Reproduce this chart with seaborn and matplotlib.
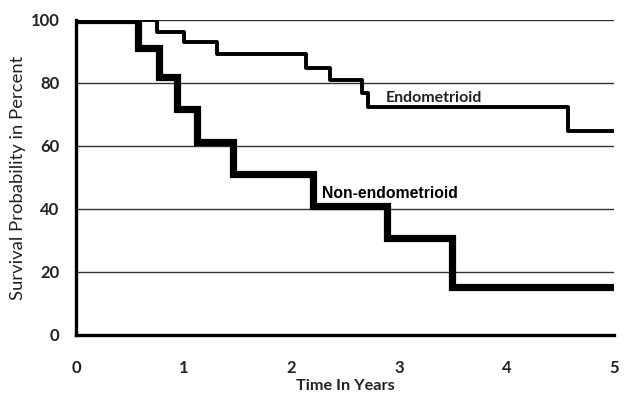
#Kaplan-Meier style survival curves, endometrioid vs non-endometrioid

import pandas as pd
import numpy as np
import matplotlib
matplotlib.use('Agg')
import matplotlib.pyplot as plt
import seaborn as sns

#step times (years) and survival (%)

endo_time = [0, 0.75, 1.0, 1.31, 2.14, 2.36, 2.66, 2.71, 4.57, 5.0]
endo_surv = [100, 96.3, 92.9, 89.2, 84.9, 81.0, 76.8, 72.5, 64.8, 64.8]

nonendo_time = [0, 0.58, 0.77, 0.94, 1.12, 1.46, 2.2, 2.89, 3.49, 5.0]
nonendo_surv = [100, 91.0, 81.8, 71.7, 61.4, 51.1, 41.0, 30.7, 15.3, 15.3]

x_ticks = [0, 1, 2, 3, 4, 5]
y_ticks = [0, 20, 40, 60, 80, 100]

endo = pd.DataFrame({'Time': endo_time, 'Survival': endo_surv})
nonendo = pd.DataFrame({'Time': nonendo_time, 'Survival': nonendo_surv})

sns.set_style('white')

fig = plt.figure(figsize=(6.25, 3.95), dpi=100)
ax = fig.add_axes([0.1216, 0.1519, 0.8608, 0.7975])

#gridlines at each y tick
for y in y_ticks[1:]:
    ax.axhline(y, color='#333333', lw=1.0, zorder=1)

sns.lineplot(data=endo, x='Time', y='Survival', ax=ax, color='black', lw=2.8,
             drawstyle='steps-post', estimator=None, sort=False, zorder=3)
sns.lineplot(data=nonendo, x='Time', y='Survival', ax=ax, color='black', lw=5.2,
             drawstyle='steps-post', estimator=None, sort=False, zorder=3,
             solid_joinstyle='miter')

ax.set_xlim(0, 5)
ax.set_ylim(0, 100)
ax.set_xticks(x_ticks)
ax.set_yticks(y_ticks)
ax.set_xticklabels([str(v) for v in x_ticks], fontfamily='Lato', fontweight='bold', fontsize=12, color='#222222')
ax.set_yticklabels([str(v) for v in y_ticks], fontfamily='Lato', fontweight='bold', fontsize=12, color='#222222')
ax.tick_params(axis='x', direction='in', length=3, width=2, pad=18, color='black')
ax.tick_params(axis='y', direction='in', length=3, width=2, pad=12, color='black')

for s in ['top', 'right']:
    ax.spines[s].set_visible(False)
for s in ['left', 'bottom']:
    ax.spines[s].set_linewidth(2.4)
    ax.spines[s].set_color('black')
ax.spines['left'].set_zorder(4)
ax.spines['bottom'].set_zorder(4)

ax.set_xlabel('Time In Years', fontfamily='Lato', fontweight='bold', fontsize=11.7, color='#222222', labelpad=2.5)
ax.set_ylabel('Survival Probability in Percent', fontfamily='Lato', fontsize=13.3, color='#222222', labelpad=3)

ax.text(2.88, 75.3, 'Endometrioid', fontfamily='Lato', fontweight='bold', fontsize=11.5,
        color='#222222', ha='left', va='center')
ax.text(2.29, 45.0, 'Non-endometrioid', fontfamily='Liberation Sans', fontweight='bold', fontsize=11.3,
        color='black', ha='left', va='center')

plt.savefig('out.png', dpi=100)
